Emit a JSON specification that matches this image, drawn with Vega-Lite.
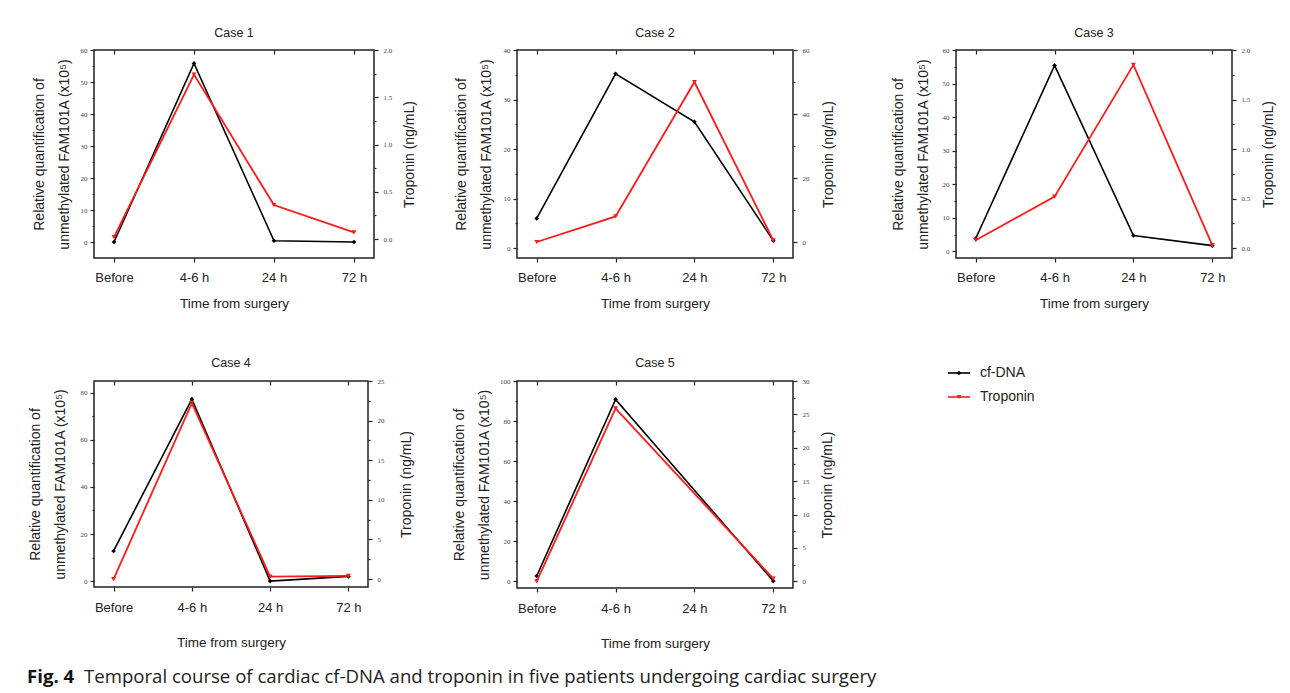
{
  "$schema": "https://vega.github.io/schema/vega-lite/v6.json",
  "background": "white",
  "padding": {"left": 27, "top": 25, "right": 5, "bottom": 5},
  "datasets": {
    "d": [
      {"case": "Case 1", "time": "Before", "dna": 0, "trop": 0.02},
      {"case": "Case 1", "time": "4-6 h", "dna": 55.8, "trop": 1.74},
      {"case": "Case 1", "time": "24 h", "dna": 0.4, "trop": 0.36},
      {"case": "Case 1", "time": "72 h", "dna": 0, "trop": 0.07},
      {"case": "Case 2", "time": "Before", "dna": 6, "trop": 0},
      {"case": "Case 2", "time": "4-6 h", "dna": 35.2, "trop": 8},
      {"case": "Case 2", "time": "24 h", "dna": 25.5, "trop": 50},
      {"case": "Case 2", "time": "72 h", "dna": 1.5, "trop": 0.5},
      {"case": "Case 3", "time": "Before", "dna": 3.8, "trop": 0.08},
      {"case": "Case 3", "time": "4-6 h", "dna": 55.4, "trop": 0.52},
      {"case": "Case 3", "time": "24 h", "dna": 4.7, "trop": 1.85},
      {"case": "Case 3", "time": "72 h", "dna": 1.7, "trop": 0.03},
      {"case": "Case 4", "time": "Before", "dna": 12.8, "trop": 0},
      {"case": "Case 4", "time": "4-6 h", "dna": 77.3, "trop": 22.2},
      {"case": "Case 4", "time": "24 h", "dna": 0, "trop": 0.3},
      {"case": "Case 4", "time": "72 h", "dna": 2.0, "trop": 0.4},
      {"case": "Case 5", "time": "Before", "dna": 2.5, "trop": 0},
      {"case": "Case 5", "time": "4-6 h", "dna": 90.8, "trop": 25.9},
      {"case": "Case 5", "time": "72 h", "dna": 0, "trop": 0.4}
    ],
    "legend": [{"series": "cf-DNA"}, {"series": "Troponin"}],
    "blank": [{"k": 1}]
  },
  "config": {
    "view": {"stroke": "#222", "strokeWidth": 1.5},
    "font": "Liberation Sans",
    "title": {"font": "Liberation Sans", "fontSize": 12.5, "fontWeight": "normal", "color": "#222"},
    "axis": {
      "domain": false, "grid": false, "tickColor": "#222", "tickWidth": 1.2,
      "labelColor": "#444", "titleColor": "#222", "titleFontWeight": "normal", "titleFont": "Liberation Sans"
    },
    "axisY": {"labelFont": "Liberation Serif", "labelFontSize": 7, "titleFontSize": 14},
    "axisX": {"labelFont": "Liberation Sans", "labelFontSize": 13, "labelColor": "#222", "titleFontSize": 13.5, "labelAngle": 0}
  },
  "vconcat": [
    {
      "vconcat": [
        {
          "hconcat": [
            {
              "hconcat": [
                {
                  "title": {"text": "Case 1", "frame": "group", "offset": 7},
                  "width": 280, "height": 208,
                  "data": {"name": "d"},
                  "transform": [{"filter": "datum.case === 'Case 1'"}],
                  "layer": [
                    {
                      "mark": {"type": "line", "color": "#000", "strokeWidth": 1.6, "point": {"shape": "diamond", "filled": true, "size": 22, "color": "#000"}},
                      "encoding": {
                        "x": {"field": "time", "type": "ordinal", "scale": {"type": "point", "padding": 0.25, "domain": ["Before", "4-6 h", "24 h", "72 h"]}, "axis": {"orient": "bottom", "title": "Time from surgery", "titleY": 45, "titleBaseline": "middle", "tickSize": 4, "labelPadding": 9}},
                        "y": {"field": "dna", "type": "quantitative", "scale": {"domain": [-5, 60], "nice": false, "zero": false}, "axis": {"orient": "left", "values": [0, 5, 10, 15, 20, 25, 30, 35, 40, 45, 50, 55, 60], "format": "d", "labelExpr": "datum.value % 10 === 0 ? datum.label : ''", "tickSize": {"condition": {"test": "datum.value % 10 === 0", "value": 4}, "value": 2}, "labelPadding": 3, "title": ["Relative quantification of", "unmethylated FAM101A (x10⁵)"], "titleAngle": 270, "titleBaseline": "middle", "titleLineHeight": 25, "titleX": -55}},
                        "order": {"value": null}
                      }
                    },
                    {
                      "mark": {"type": "line", "color": "#ff1a1a", "strokeWidth": 1.8, "point": {"shape": "triangle-down", "filled": true, "size": 24, "color": "#ff1a1a"}},
                      "encoding": {
                        "x": {"field": "time", "type": "ordinal", "axis": {"orient": "top", "labels": false, "title": null, "tickSize": -4}},
                        "y": {"field": "trop", "type": "quantitative", "scale": {"domain": [-0.2, 2], "nice": false, "zero": false}, "axis": {"orient": "right", "values": [0, 0.25, 0.5, 0.75, 1, 1.25, 1.5, 1.75, 2], "format": ".1f", "labelExpr": "datum.value % 0.5 === 0 ? datum.label : ''", "tickSize": {"condition": {"test": "datum.value % 0.5 === 0", "value": 4}, "value": 2}, "labelPadding": 5, "title": "Troponin (ng/mL)", "titleAngle": 270, "titleBaseline": "middle", "titleX": 35}},
                        "order": {"value": null}
                      }
                    }
                  ],
                  "resolve": {"scale": {"y": "independent"}, "axis": {"x": "independent"}}
                },
                {
                  "title": {"text": "Case 2", "frame": "group", "offset": 7},
                  "width": 276, "height": 208,
                  "data": {"name": "d"},
                  "transform": [{"filter": "datum.case === 'Case 2'"}],
                  "layer": [
                    {
                      "mark": {"type": "line", "color": "#000", "strokeWidth": 1.6, "point": {"shape": "diamond", "filled": true, "size": 22, "color": "#000"}},
                      "encoding": {
                        "x": {"field": "time", "type": "ordinal", "scale": {"type": "point", "padding": 0.25, "domain": ["Before", "4-6 h", "24 h", "72 h"]}, "axis": {"orient": "bottom", "title": "Time from surgery", "titleY": 45, "titleBaseline": "middle", "tickSize": 4, "labelPadding": 9}},
                        "y": {"field": "dna", "type": "quantitative", "scale": {"domain": [-2, 40], "nice": false, "zero": false}, "axis": {"orient": "left", "values": [0, 5, 10, 15, 20, 25, 30, 35, 40], "format": "d", "labelExpr": "datum.value % 10 === 0 ? datum.label : ''", "tickSize": {"condition": {"test": "datum.value % 10 === 0", "value": 4}, "value": 2}, "labelPadding": 3, "title": ["Relative quantification of", "unmethylated FAM101A (x10⁵)"], "titleAngle": 270, "titleBaseline": "middle", "titleLineHeight": 25, "titleX": -56}},
                        "order": {"value": null}
                      }
                    },
                    {
                      "mark": {"type": "line", "color": "#ff1a1a", "strokeWidth": 1.8, "point": {"shape": "triangle-down", "filled": true, "size": 24, "color": "#ff1a1a"}},
                      "encoding": {
                        "x": {"field": "time", "type": "ordinal", "axis": {"orient": "top", "labels": false, "title": null, "tickSize": -4}},
                        "y": {"field": "trop", "type": "quantitative", "scale": {"domain": [-5, 60], "nice": false, "zero": false}, "axis": {"orient": "right", "values": [0, 10, 20, 30, 40, 50, 60], "format": "d", "labelExpr": "datum.value % 20 === 0 ? datum.label : ''", "tickSize": {"condition": {"test": "datum.value % 20 === 0", "value": 4}, "value": 2}, "labelPadding": 5, "title": "Troponin (ng/mL)", "titleAngle": 270, "titleBaseline": "middle", "titleX": 35}},
                        "order": {"value": null}
                      }
                    }
                  ],
                  "resolve": {"scale": {"y": "independent"}, "axis": {"x": "independent"}}
                }
              ],
              "spacing": 36
            },
            {
              "title": {"text": "Case 3", "frame": "group", "offset": 7},
              "width": 276, "height": 208,
              "data": {"name": "d"},
              "transform": [{"filter": "datum.case === 'Case 3'"}],
              "layer": [
                {
                  "mark": {"type": "line", "color": "#000", "strokeWidth": 1.6, "point": {"shape": "diamond", "filled": true, "size": 22, "color": "#000"}},
                  "encoding": {
                    "x": {"field": "time", "type": "ordinal", "scale": {"type": "point", "padding": 0.25, "domain": ["Before", "4-6 h", "24 h", "72 h"]}, "axis": {"orient": "bottom", "title": "Time from surgery", "titleY": 45, "titleBaseline": "middle", "tickSize": 4, "labelPadding": 9}},
                    "y": {"field": "dna", "type": "quantitative", "scale": {"domain": [-2, 60], "nice": false, "zero": false}, "axis": {"orient": "left", "values": [0, 5, 10, 15, 20, 25, 30, 35, 40, 45, 50, 55, 60], "format": "d", "labelExpr": "datum.value % 10 === 0 ? datum.label : ''", "tickSize": {"condition": {"test": "datum.value % 10 === 0", "value": 4}, "value": 2}, "labelPadding": 3, "title": ["Relative quantification of", "unmethylated FAM101A (x10⁵)"], "titleAngle": 270, "titleBaseline": "middle", "titleLineHeight": 25, "titleX": -58}},
                    "order": {"value": null}
                  }
                },
                {
                  "mark": {"type": "line", "color": "#ff1a1a", "strokeWidth": 1.8, "point": {"shape": "triangle-down", "filled": true, "size": 24, "color": "#ff1a1a"}},
                  "encoding": {
                    "x": {"field": "time", "type": "ordinal", "axis": {"orient": "top", "labels": false, "title": null, "tickSize": -4}},
                    "y": {"field": "trop", "type": "quantitative", "scale": {"domain": [-0.1, 2], "nice": false, "zero": false}, "axis": {"orient": "right", "values": [0, 0.25, 0.5, 0.75, 1, 1.25, 1.5, 1.75, 2], "format": ".1f", "labelExpr": "datum.value % 0.5 === 0 ? datum.label : ''", "tickSize": {"condition": {"test": "datum.value % 0.5 === 0", "value": 4}, "value": 2}, "labelPadding": 5, "title": "Troponin (ng/mL)", "titleAngle": 270, "titleBaseline": "middle", "titleX": 36}},
                    "order": {"value": null}
                  }
                }
              ],
              "resolve": {"scale": {"y": "independent"}, "axis": {"x": "independent"}}
            }
          ],
          "spacing": 54
        },
        {
          "hconcat": [
            {
              "hconcat": [
                {
                  "title": {"text": "Case 4", "frame": "group", "offset": 8},
                  "width": 274, "height": 206,
                  "data": {"name": "d"},
                  "transform": [{"filter": "datum.case === 'Case 4'"}],
                  "layer": [
                    {
                      "mark": {"type": "line", "color": "#000", "strokeWidth": 1.6, "point": {"shape": "diamond", "filled": true, "size": 22, "color": "#000"}},
                      "encoding": {
                        "x": {"field": "time", "type": "ordinal", "scale": {"type": "point", "padding": 0.25, "domain": ["Before", "4-6 h", "24 h", "72 h"]}, "axis": {"orient": "bottom", "title": "Time from surgery", "titleY": 55, "titleBaseline": "middle", "tickSize": 4, "labelPadding": 10}},
                        "y": {"field": "dna", "type": "quantitative", "scale": {"domain": [-2.5, 85], "nice": false, "zero": false}, "axis": {"orient": "left", "values": [0, 10, 20, 30, 40, 50, 60, 70, 80], "format": "d", "labelExpr": "datum.value % 20 === 0 ? datum.label : ''", "tickSize": {"condition": {"test": "datum.value % 20 === 0", "value": 4}, "value": 2}, "labelPadding": 3, "title": ["Relative quantification of", "unmethylated FAM101A (x10⁵)"], "titleAngle": 270, "titleBaseline": "middle", "titleLineHeight": 25, "titleX": -59}},
                        "order": {"value": null}
                      }
                    },
                    {
                      "mark": {"type": "line", "color": "#ff1a1a", "strokeWidth": 1.8, "point": {"shape": "triangle-down", "filled": true, "size": 24, "color": "#ff1a1a"}},
                      "encoding": {
                        "x": {"field": "time", "type": "ordinal", "axis": {"orient": "top", "labels": false, "title": null, "tickSize": -4}},
                        "y": {"field": "trop", "type": "quantitative", "scale": {"domain": [-1, 25], "nice": false, "zero": false}, "axis": {"orient": "right", "values": [0, 2.5, 5, 7.5, 10, 12.5, 15, 17.5, 20, 22.5, 25], "format": "d", "labelExpr": "datum.value % 5 === 0 ? datum.label : ''", "tickSize": {"condition": {"test": "datum.value % 5 === 0", "value": 4}, "value": 2}, "labelPadding": 5, "title": "Troponin (ng/mL)", "titleAngle": 270, "titleBaseline": "middle", "titleX": 38}},
                        "order": {"value": null}
                      }
                    }
                  ],
                  "resolve": {"scale": {"y": "independent"}, "axis": {"x": "independent"}}
                },
                {
                  "title": {"text": "Case 5", "frame": "group", "offset": 8},
                  "width": 276, "height": 207,
                  "data": {"name": "d"},
                  "transform": [{"filter": "datum.case === 'Case 5'"}],
                  "layer": [
                    {
                      "mark": {"type": "line", "color": "#000", "strokeWidth": 1.6, "point": {"shape": "diamond", "filled": true, "size": 22, "color": "#000"}},
                      "encoding": {
                        "x": {"field": "time", "type": "ordinal", "scale": {"type": "point", "padding": 0.25, "domain": ["Before", "4-6 h", "24 h", "72 h"]}, "axis": {"orient": "bottom", "title": "Time from surgery", "titleY": 55, "titleBaseline": "middle", "tickSize": 4, "labelPadding": 10}},
                        "y": {"field": "dna", "type": "quantitative", "scale": {"domain": [-3.5, 100], "nice": false, "zero": false}, "axis": {"orient": "left", "values": [0, 10, 20, 30, 40, 50, 60, 70, 80, 90, 100], "format": "d", "labelExpr": "datum.value % 20 === 0 ? datum.label : ''", "tickSize": {"condition": {"test": "datum.value % 20 === 0", "value": 4}, "value": 2}, "labelPadding": 3, "title": ["Relative quantification of", "unmethylated FAM101A (x10⁵)"], "titleAngle": 270, "titleBaseline": "middle", "titleLineHeight": 25, "titleX": -58}},
                        "order": {"value": null}
                      }
                    },
                    {
                      "mark": {"type": "line", "color": "#ff1a1a", "strokeWidth": 1.8, "point": {"shape": "triangle-down", "filled": true, "size": 24, "color": "#ff1a1a"}},
                      "encoding": {
                        "x": {"field": "time", "type": "ordinal", "axis": {"orient": "top", "labels": false, "title": null, "tickSize": -4}},
                        "y": {"field": "trop", "type": "quantitative", "scale": {"domain": [-1, 30], "nice": false, "zero": false}, "axis": {"orient": "right", "values": [0, 2.5, 5, 7.5, 10, 12.5, 15, 17.5, 20, 22.5, 25, 27.5, 30], "format": "d", "labelExpr": "datum.value % 5 === 0 ? datum.label : ''", "tickSize": {"condition": {"test": "datum.value % 5 === 0", "value": 4}, "value": 2}, "labelPadding": 5, "title": "Troponin (ng/mL)", "titleAngle": 270, "titleBaseline": "middle", "titleX": 34}},
                        "order": {"value": null}
                      }
                    }
                  ],
                  "resolve": {"scale": {"y": "independent"}, "axis": {"x": "independent"}}
                }
              ],
              "spacing": 37
            },
            {
              "width": 88, "height": 24,
              "view": {"stroke": null},
              "data": {"name": "legend"},
              "encoding": {
                "y": {"field": "series", "type": "nominal", "scale": {"type": "point", "domain": ["cf-DNA", "Troponin"], "range": [-8, 16], "padding": 0}, "axis": null}
              },
              "layer": [
                {
                  "mark": {"type": "rule", "strokeWidth": 1.6},
                  "encoding": {
                    "x": {"datum": 0, "type": "quantitative", "scale": {"domain": [0, 4]}, "axis": null},
                    "x2": {"datum": 1},
                    "color": {"field": "series", "type": "nominal", "scale": {"domain": ["cf-DNA", "Troponin"], "range": ["#000", "#ff1a1a"]}, "legend": null}
                  }
                },
                {
                  "mark": {"type": "point", "filled": true, "size": 20, "opacity": 1},
                  "encoding": {
                    "x": {"datum": 0.5, "type": "quantitative"},
                    "color": {"field": "series", "type": "nominal", "legend": null},
                    "shape": {"field": "series", "type": "nominal", "scale": {"domain": ["cf-DNA", "Troponin"], "range": ["diamond", "triangle-down"]}, "legend": null}
                  }
                },
                {
                  "mark": {"type": "text", "align": "left", "baseline": "middle", "fontSize": 14, "color": "#222", "font": "Liberation Sans"},
                  "encoding": {
                    "x": {"datum": 1.45, "type": "quantitative"},
                    "text": {"field": "series"}
                  }
                }
              ]
            }
          ],
          "spacing": 112
        }
      ],
      "spacing": 44
    },
    {
      "hconcat": [
        {
          "width": 1, "height": 1,
          "view": {"stroke": null},
          "data": {"name": "blank"},
          "mark": {"type": "point", "opacity": 0},
          "title": {"text": "Fig. 4", "anchor": "start", "frame": "group", "font": "Open Sans", "fontSize": 18.6, "fontWeight": "bold", "color": "#111", "offset": 0, "dx": -67}
        },
        {
          "width": 1, "height": 1,
          "view": {"stroke": null},
          "data": {"name": "blank"},
          "mark": {"type": "point", "opacity": 0},
          "title": {"text": "Temporal course of cardiac cf-DNA and troponin in five patients undergoing cardiac surgery", "anchor": "start", "frame": "group", "font": "Open Sans", "fontSize": 18.6, "fontWeight": "normal", "color": "#222", "offset": 0, "dx": -67}
        }
      ],
      "spacing": -14
    }
  ],
  "spacing": 17
}
